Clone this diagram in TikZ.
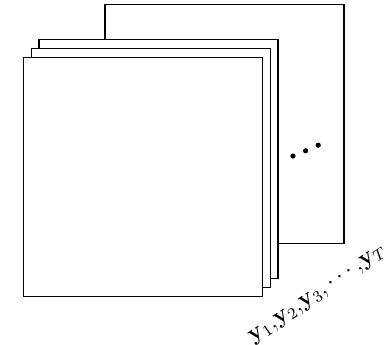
\documentclass[tikz,border=0pt]{standalone}
\usepackage{amsmath}
\usepackage{amssymb}
\usepackage{tikz}
\usetikzlibrary{shapes,positioning,calc}
\tikzstyle{frame} = [draw, fill=white, line width=0.6pt, inner sep=0pt, minimum width=119.5pt, minimum height=119.5pt]
\tikzstyle{dot} = [circle, fill=black, inner sep=0pt, minimum size=2.6pt]

\begin{document}
\begin{tikzpicture}[x=0.5pt, y=-0.5pt]
    \useasboundingbox (0,0) rectangle (385,344);
    \node [frame] (last) at (224.5,124) {};
    \node [frame] (third) at (158.5,159.3) {};
    \node [frame] (second) at (150.7,168) {};
    \node [frame] (first) at (143,177) {};

    \node [dot] (d1) at (293,156) {};
    \node [dot, right=3.3pt of d1, yshift=2.6pt] (d2) {};
    \node [dot, right=3.3pt of d2, yshift=2.8pt] (d3) {};

    \node [rotate=34, font=\large, inner sep=1pt] (seq) at (318,295) {$\mathbf{y}_1{,}\mathbf{y}_2{,}\mathbf{y}_3{,}\,{\cdots}\,{,}\mathbf{y}_T$};
\end{tikzpicture}
\end{document}
